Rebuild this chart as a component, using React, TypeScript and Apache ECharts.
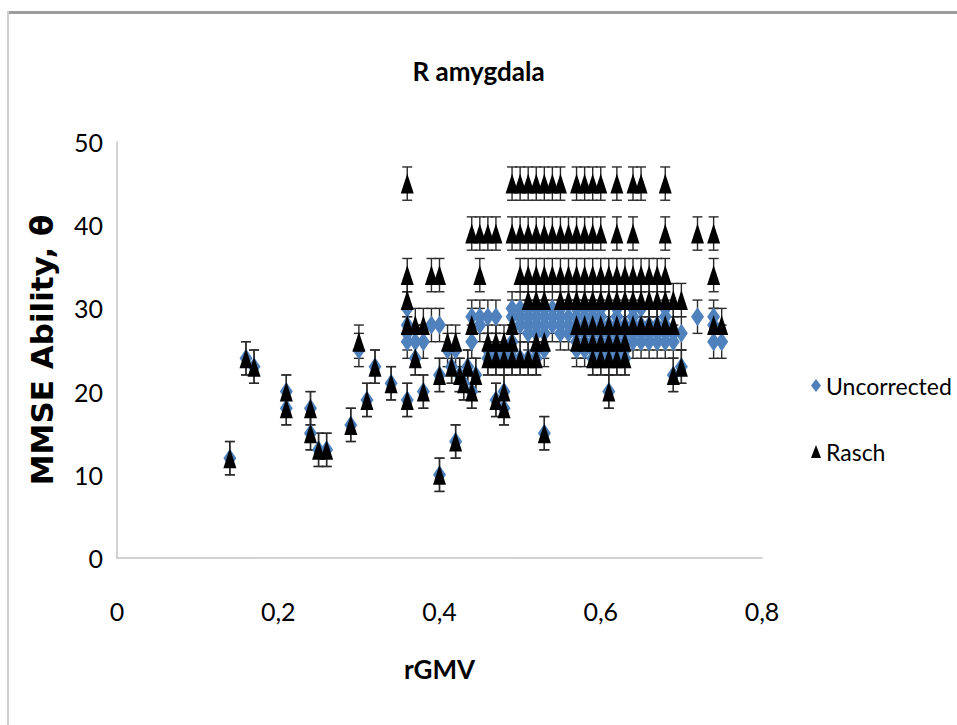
import React, { useEffect, useRef } from "react";
import * as echarts from "echarts";

// Isolated subjects: rGMV, uncorrected MMSE, Rasch ability
const singlesX = [0.14, 0.16, 0.17, 0.21, 0.21, 0.24, 0.24, 0.25, 0.26, 0.29, 0.30, 0.31, 0.32, 0.34, 0.36, 0.37, 0.38, 0.40, 0.40, 0.42, 0.415, 0.425, 0.43, 0.435, 0.44, 0.445, 0.47, 0.48, 0.48, 0.53, 0.61, 0.69, 0.70];
const singlesUncorrected = [12, 24, 23, 20, 18, 18, 15, 13, 13, 16, 25, 19, 23, 21, 19, 24, 20, 22, 10, 14, 23, 22, 21, 23, 20, 22, 19, 20, 18, 15, 20, 22, 23];
const singlesRasch = [12, 24, 23, 20, 18, 18, 15, 13, 13, 16, 26, 19, 23, 21, 19, 24, 20, 22, 10, 14, 23, 22, 21, 23, 20, 22, 19, 20, 18, 15, 20, 22, 23];

// Subjects in the dense band, grouped by score level
const levelUncorrected = [24, 25, 26, 27, 28, 29, 30];
const levelRasch = [24, 26, 28, 31, 34, 39, 45];
const levelX = [
  [0.46, 0.47, 0.48, 0.49, 0.50, 0.51, 0.52, 0.59, 0.60, 0.61, 0.62, 0.63],
  [0.41, 0.42, 0.46, 0.47, 0.48, 0.49, 0.52, 0.53, 0.57, 0.58, 0.59, 0.60, 0.61, 0.62, 0.63],
  [0.36, 0.37, 0.38, 0.44, 0.49, 0.57, 0.58, 0.59, 0.60, 0.61, 0.62, 0.63, 0.64, 0.65, 0.66, 0.67, 0.68, 0.69, 0.74, 0.75],
  [0.36, 0.51, 0.52, 0.53, 0.55, 0.56, 0.57, 0.58, 0.59, 0.60, 0.61, 0.62, 0.63, 0.64, 0.65, 0.66, 0.67, 0.68, 0.69, 0.70],
  [0.36, 0.39, 0.40, 0.45, 0.50, 0.51, 0.52, 0.53, 0.54, 0.55, 0.56, 0.57, 0.58, 0.59, 0.60, 0.61, 0.62, 0.63, 0.64, 0.65, 0.66, 0.67, 0.68, 0.74],
  [0.44, 0.45, 0.46, 0.47, 0.49, 0.50, 0.51, 0.52, 0.53, 0.54, 0.55, 0.56, 0.57, 0.58, 0.59, 0.60, 0.62, 0.64, 0.68, 0.72, 0.74],
  [0.36, 0.49, 0.50, 0.51, 0.52, 0.53, 0.54, 0.55, 0.57, 0.58, 0.59, 0.60, 0.62, 0.64, 0.65, 0.68],
];

const errorMargin = 2;
const xTicks = [0, 0.2, 0.4, 0.6, 0.8];
const yTicks = [0, 10, 20, 30, 40, 50];

const FONT = "Lato, 'Liberation Sans', sans-serif";

export default function App() {
  const ref = useRef<HTMLDivElement>(null);

  useEffect(() => {
    if (!ref.current) return;
    const chart = echarts.init(ref.current, null, { renderer: "svg" });

    const uncorrectedData: number[][] = singlesX.map((x, i) => [x, singlesUncorrected[i]]);
    const raschData: number[][] = singlesX.map((x, i) => [x, singlesRasch[i]]);
    levelX.forEach((xs, li) => {
      xs.forEach((x) => {
        uncorrectedData.push([x, levelUncorrected[li]]);
        raschData.push([x, levelRasch[li]]);
      });
    });

    const errorBars = (name: string, data: number[][]) => ({
      type: "custom",
      name,
      data,
      encode: { x: 0, y: 1 },
      silent: true,
      renderItem: (params: any, api: any) => {
        const x = api.value(0);
        const y = api.value(1);
        const c = api.coord([x, y]);
        const hi = api.coord([x, y + errorMargin]);
        const lo = api.coord([x, y - errorMargin]);
        const w = 5;
        const style = { stroke: "#2a2a2a", lineWidth: 1.4, fill: null };
        return {
          type: "group",
          children: [
            { type: "line", shape: { x1: c[0], y1: hi[1], x2: c[0], y2: lo[1] }, style },
            { type: "line", shape: { x1: c[0] - w, y1: hi[1], x2: c[0] + w, y2: hi[1] }, style },
            { type: "line", shape: { x1: c[0] - w, y1: lo[1], x2: c[0] + w, y2: lo[1] }, style },
          ],
        };
      },
    });

    const axisLine = { show: true, lineStyle: { color: "#c4c4c4", width: 1.5 } };

    chart.setOption({
      animation: false,
      backgroundColor: "#ffffff",
      title: {
        text: "R amygdala",
        left: "center",
        top: 53,
        textStyle: { fontFamily: FONT, fontSize: 26, fontWeight: "bold", color: "#000" },
      },
      grid: { left: 117, right: 195, top: 142, bottom: 167 },
      xAxis: {
        type: "value",
        min: xTicks[0],
        max: xTicks[xTicks.length - 1],
        interval: 0.2,
        name: "rGMV",
        nameLocation: "middle",
        nameGap: 98,
        nameTextStyle: { fontFamily: FONT, fontSize: 26, fontWeight: "bold", color: "#000" },
        axisLine,
        axisTick: { show: false },
        splitLine: { show: false },
        axisLabel: {
          margin: 40,
          fontFamily: FONT,
          fontSize: 25,
          color: "#000",
          formatter: (v: number) => String(Math.round(v * 10) / 10).replace(".", ","),
        },
      },
      yAxis: {
        type: "value",
        min: yTicks[0],
        max: yTicks[yTicks.length - 1],
        interval: 10,
        name: "MMSE Ability, θ",
        nameLocation: "middle",
        nameGap: 60,
        nameTextStyle: { fontFamily: "'DejaVu Sans', sans-serif", fontSize: 31, fontWeight: "bold", color: "#000" },
        axisLine,
        axisTick: { show: false },
        splitLine: { show: false },
        axisLabel: { margin: 14, fontFamily: FONT, fontSize: 25, color: "#000" },
      },
      legend: {
        orient: "vertical",
        left: 806,
        top: 369,
        itemGap: 43,
        itemWidth: 10,
        itemHeight: 13,
        textStyle: { fontFamily: FONT, fontSize: 23, color: "#000" },
        data: [
          { name: "Uncorrected", icon: "diamond" },
          { name: "Rasch", icon: "triangle" },
        ],
      },
      graphic: [
        { type: "rect", shape: { x: 7, y: 11, width: 950, height: 3 }, style: { fill: "#9c9c9c" }, silent: true },
        { type: "rect", shape: { x: 7, y: 11, width: 2, height: 714 }, style: { fill: "#cfcfcf" }, silent: true },
      ],
      series: [
        errorBars("errU", uncorrectedData),
        {
          type: "scatter",
          name: "Uncorrected",
          data: uncorrectedData,
          symbol: "diamond",
          symbolSize: [13, 19],
          itemStyle: { color: "#4F81BD", opacity: 1 },
        },
        errorBars("errR", raschData),
        {
          type: "scatter",
          name: "Rasch",
          data: raschData,
          symbol: "triangle",
          symbolSize: [13, 20],
          itemStyle: { color: "#000000", opacity: 1 },
        },
      ],
    });

    return () => chart.dispose();
  }, []);

  return (
    <div
      ref={ref}
      style={{ position: "fixed", left: 0, top: 0, width: 957, height: 725, background: "#fff" }}
    />
  );
}
